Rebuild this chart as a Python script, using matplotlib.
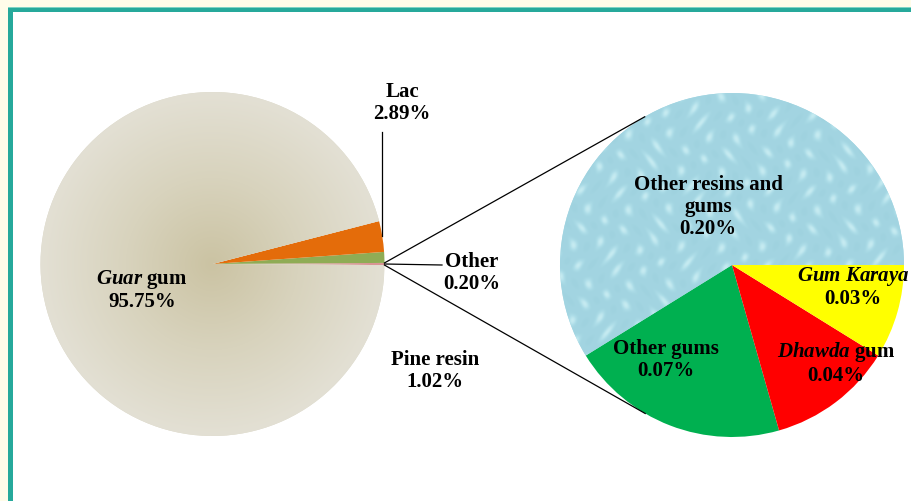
import numpy as np
import matplotlib.pyplot as plt
from matplotlib.patches import Rectangle
from matplotlib.colors import LinearSegmentedColormap

plt.rcParams['font.family'] = ['Liberation Serif', 'DejaVu Serif']
plt.rcParams['font.weight'] = 'bold'
plt.rcParams['mathtext.fontset'] = 'custom'
plt.rcParams['mathtext.it'] = 'Liberation Serif:italic:bold'
plt.rcParams['mathtext.rm'] = 'Liberation Serif:bold'

# main pie: share of each product (%)
main_labels = ['Other', 'Pine resin', 'Lac', r'$\mathit{Guar}$ gum']
main_values = [0.20, 1.02, 2.89, 95.75]
main_colors = ['#d99594', '#8fac55', '#e46c0a', '#dcd8c8']

# breakdown of "Other"
sub_labels = ['Other resins and\ngums', 'Other gums', r'$\mathit{Dhawda}$ gum', r'$\mathit{Gum\ Karaya}$']
sub_values = [0.20, 0.07, 0.04, 0.03]
sub_colors = ['#a9dbe6', '#00b050', '#ff0000', '#ffff00']

W, H = 912, 502
fig = plt.figure(figsize=(W / 100, H / 100), dpi=100, facecolor='#fffce9')
ax = fig.add_axes([0, 0, 1, 1])
ax.axis('off')

# teal frame
ax.add_patch(Rectangle((8, -20), 1000, 514, facecolor='#26a99b', edgecolor='none', zorder=0))
ax.add_patch(Rectangle((8, 493), 1000, 1.2, facecolor='#7fd3c4', edgecolor='none', zorder=0))
ax.add_patch(Rectangle((13, -20), 1000, 509, facecolor='white', edgecolor='none', zorder=0))

c1, r1 = (212.5, 237.0), 172
c2, r2 = (732.0, 236.0), 172
half = 360 * main_values[0] / sum(main_values) / 2

w1, _ = ax.pie(main_values, colors=main_colors, center=c1, radius=r1,
               startangle=-half, counterclock=True, wedgeprops=dict(linewidth=0))
w2, _ = ax.pie(sub_values, colors=sub_colors, center=c2, radius=r2,
               startangle=0, counterclock=True, wedgeprops=dict(linewidth=0))

# radial shading on the big slice
n = 400
gx, gy = np.meshgrid(np.linspace(-1, 1, n), np.linspace(-1, 1, n))
rr = np.clip(np.hypot(gx, gy), 0, 1)
beige = LinearSegmentedColormap.from_list('beige', ['#cbc3a3', '#d8d3bd', '#e3e0d4'])
im = ax.imshow(rr, cmap=beige, extent=(c1[0] - r1, c1[0] + r1, c1[1] - r1, c1[1] + r1),
               origin='lower', zorder=1.5, interpolation='bilinear')
im.set_clip_path(w1[3])

# water-drop look on the "other resins" slice
tx, ty = np.meshgrid(np.arange(n), np.arange(n))
drops = np.sin(tx / 5.0 + np.sin(ty / 13.0) * 1.5) * np.sin(ty / 7.0 + np.sin(tx / 17.0) * 1.5)
drops = np.clip(drops, 0.2, 1) ** 2 - 0.3 * np.clip(-drops, 0.5, 1)
water = LinearSegmentedColormap.from_list('water', ['#9fd2df', '#addde8', '#c6ebf1'])
im2 = ax.imshow(drops, cmap=water, extent=(c2[0] - r2, c2[0] + r2, c2[1] - r2, c2[1] + r2),
                origin='lower', zorder=1.5, interpolation='bilinear')
im2.set_clip_path(w2[0])


def rim(c, r, ang):
    a = np.deg2rad(ang)
    return c[0] + r * np.cos(a), c[1] + r * np.sin(a)


# connector lines between the two pies
for a_from, a_to in [(w1[0].theta2, 120.5), (w1[0].theta1, 239.7)]:
    p, q = rim(c1, r1, a_from), rim(c2, r2, a_to)
    ax.plot([p[0], q[0]], [p[1], q[1]], color='black', lw=0.9, zorder=3)

# leader lines
lac = rim(c1, r1, (w1[2].theta1 + w1[2].theta2) / 2)
ax.plot([lac[0], lac[0]], [lac[1], 369], color='black', lw=0.9, zorder=3)
oth = rim(c1, r1, 0)
ax.plot([oth[0], 442], [oth[1], 236], color='black', lw=0.9, zorder=3)

fs = 15
txt = dict(ha='center', va='center', fontsize=fs, fontweight='bold', linespacing=1.1, zorder=4)
main_pos = [(472, 229), (435, 131), (402, 399), (142, 212)]
for lab, v, pos in zip(main_labels, main_values, main_pos):
    ax.text(pos[0], pos[1], f'{lab}\n{v:.2f}%', **txt)

sub_pos = [(708, 295), (666, 142), (836, 139), (853, 215)]
for lab, v, pos in zip(sub_labels, sub_values, sub_pos):
    ax.text(pos[0], pos[1], f'{lab}\n{v:.2f}%', **txt)

ax.set_xlim(0, W)
ax.set_ylim(0, H)
ax.set_aspect('equal')
fig.savefig('out.png', dpi=100, facecolor=fig.get_facecolor())
